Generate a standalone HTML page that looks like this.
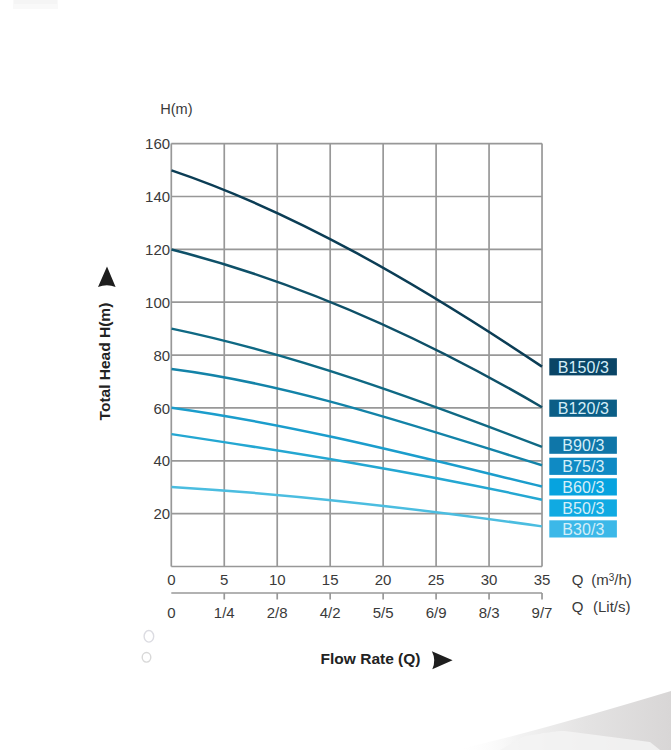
<!DOCTYPE html>
<html><head><meta charset="utf-8"><style>
html,body{margin:0;padding:0;background:#fff;}
body{width:671px;height:750px;overflow:hidden;position:relative;}
svg{position:absolute;left:0;top:0;display:block;}
text{font-family:"Liberation Sans",Arial,sans-serif;}
</style></head><body>
<svg width="671" height="750" viewBox="0 0 671 750">
<defs>
<linearGradient id="sw" x1="0" y1="0" x2="1" y2="0">
<stop offset="0" stop-color="#ffffff" stop-opacity="0"/>
<stop offset="0.3" stop-color="#f2f2f2"/>
<stop offset="0.6" stop-color="#e4e3e3"/>
<stop offset="1" stop-color="#d8d6d6"/>
</linearGradient>
</defs>
<rect x="13" y="0" width="45" height="9" fill="#f9f9f9"/><rect x="14" y="0" width="43" height="4" fill="#f5f5f5"/>
<path d="M455,750 C520,736 600,712 671,691 L671,750 Z" fill="url(#sw)"/>
<path d="M500,750 L525,736 C545,733 555,731 565,731 L650,742 L660,750 Z" fill="#f3f3f3" opacity="0.85"/>
<ellipse cx="148.9" cy="636.3" rx="4.8" ry="5.8" fill="none" stroke="#dcdce2" stroke-width="1.4"/>
<ellipse cx="146.5" cy="657.3" rx="4.3" ry="4.8" fill="none" stroke="#d8d8d8" stroke-width="1.4"/>
<g stroke="#989898" stroke-width="1.7" fill="none">
<line x1="171.30" y1="566.50" x2="171.30" y2="143.62"/><line x1="224.26" y1="566.50" x2="224.26" y2="143.62"/><line x1="277.22" y1="566.50" x2="277.22" y2="143.62"/><line x1="330.18" y1="566.50" x2="330.18" y2="143.62"/><line x1="383.14" y1="566.50" x2="383.14" y2="143.62"/><line x1="436.10" y1="566.50" x2="436.10" y2="143.62"/><line x1="489.06" y1="566.50" x2="489.06" y2="143.62"/><line x1="542.02" y1="566.50" x2="542.02" y2="143.62"/><line x1="171.30" y1="566.50" x2="542.02" y2="566.50"/><line x1="171.30" y1="513.64" x2="542.02" y2="513.64"/><line x1="171.30" y1="460.78" x2="542.02" y2="460.78"/><line x1="171.30" y1="407.92" x2="542.02" y2="407.92"/><line x1="171.30" y1="355.06" x2="542.02" y2="355.06"/><line x1="171.30" y1="302.20" x2="542.02" y2="302.20"/><line x1="171.30" y1="249.34" x2="542.02" y2="249.34"/><line x1="171.30" y1="196.48" x2="542.02" y2="196.48"/><line x1="171.30" y1="143.62" x2="542.02" y2="143.62"/>
<line x1="171.30" y1="593" x2="542.02" y2="593"/>
<line x1="224.26" y1="593" x2="224.26" y2="599.5"/><line x1="277.22" y1="593" x2="277.22" y2="599.5"/><line x1="330.18" y1="593" x2="330.18" y2="599.5"/><line x1="383.14" y1="593" x2="383.14" y2="599.5"/><line x1="436.10" y1="593" x2="436.10" y2="599.5"/><line x1="489.06" y1="593" x2="489.06" y2="599.5"/><line x1="542.02" y1="593" x2="542.02" y2="599.5"/>
</g>
<g fill="none" stroke-width="2.5" stroke-linecap="butt">
<path d="M171.50,170.40 C295.00,212.08 418.51,284.08 542.01,366.60" stroke="#0b3d55"/><path d="M171.50,249.50 C295.00,280.69 418.51,335.01 542.01,407.23" stroke="#0e5068"/><path d="M171.50,328.62 C295.00,354.29 418.51,399.64 542.01,446.93" stroke="#0f6984"/><path d="M171.50,368.98 C295.00,384.73 418.51,427.49 542.01,465.21" stroke="#1383a8"/><path d="M171.50,407.75 C295.00,424.86 418.51,456.70 542.01,486.58" stroke="#1b9dcc"/><path d="M171.50,434.12 C295.00,452.76 418.51,472.43 542.01,499.74" stroke="#24a7d2"/><path d="M171.50,486.88 C295.00,494.45 418.51,508.78 542.01,526.37" stroke="#4bbde0"/>
</g>
<g fill="#3a3a3a" font-size="15" text-anchor="end">
<text x="170.1" y="519.24">20</text><text x="170.1" y="466.38">40</text><text x="170.1" y="413.52">60</text><text x="170.1" y="360.66">80</text><text x="170.1" y="307.80">100</text><text x="170.1" y="254.94">120</text><text x="170.1" y="202.08">140</text><text x="170.1" y="149.22">160</text>
</g>
<g fill="#3a3a3a" font-size="15" text-anchor="middle">
<text x="171.30" y="585">0</text><text x="224.26" y="585">5</text><text x="277.22" y="585">10</text><text x="330.18" y="585">15</text><text x="383.14" y="585">20</text><text x="436.10" y="585">25</text><text x="489.06" y="585">30</text><text x="542.02" y="585">35</text>
<text x="171.30" y="618">0</text><text x="224.26" y="618">1/4</text><text x="277.22" y="618">2/8</text><text x="330.18" y="618">4/2</text><text x="383.14" y="618">5/5</text><text x="436.10" y="618">6/9</text><text x="489.06" y="618">8/3</text><text x="542.02" y="618">9/7</text>
</g>
<g fill="#3a3a3a" font-size="15">
<text x="160.2" y="114.2" font-size="14.6">H(m)</text>
<text x="571.8" y="584.7">Q<tspan x="591.2">(m</tspan><tspan font-size="10" dy="-3.6">3</tspan><tspan dy="3.6">/h)</tspan></text>
<text x="571.8" y="611.5">Q<tspan x="593">(Lit/s)</tspan></text>
</g>
<g fill="#d4eef8" font-size="16" text-anchor="middle" letter-spacing="0.1">
<rect x="549.3" y="358.2" width="67.6" height="17.2" fill="#0a4566"/><text x="583.3" y="372.5">B150/3</text><rect x="549.3" y="399.6" width="67.6" height="17.2" fill="#0b5e86"/><text x="583.3" y="413.9">B120/3</text><rect x="549.3" y="436.6" width="67.6" height="17.2" fill="#0f76a8"/><text x="583.3" y="450.9">B90/3</text><rect x="549.3" y="457.7" width="67.6" height="17.2" fill="#0f8ac4"/><text x="583.3" y="472.0">B75/3</text><rect x="549.3" y="478.3" width="67.6" height="17.2" fill="#06a3df"/><text x="583.3" y="492.6">B60/3</text><rect x="549.3" y="499.4" width="67.6" height="17.2" fill="#10aae2"/><text x="583.3" y="513.7">B50/3</text><rect x="549.3" y="520.3" width="67.6" height="17.2" fill="#3cb8e8"/><text x="583.3" y="534.6">B30/3</text>
</g>
<g fill="#222" font-size="15.5" font-weight="bold">
<text transform="translate(110.2,420.4) rotate(-90)">Total Head H(m)</text>
<text x="320.6" y="664.1">Flow Rate (Q)</text>
</g>
<path d="M107,266.6 L115.6,287 Q107,283.4 98,287 Z" fill="#1e1e1e"/>
<path d="M452.6,660.2 L432.3,669.2 Q436.4,660.3 431.9,651.3 Z" fill="#1e1e1e"/>
</svg>
</body></html>
